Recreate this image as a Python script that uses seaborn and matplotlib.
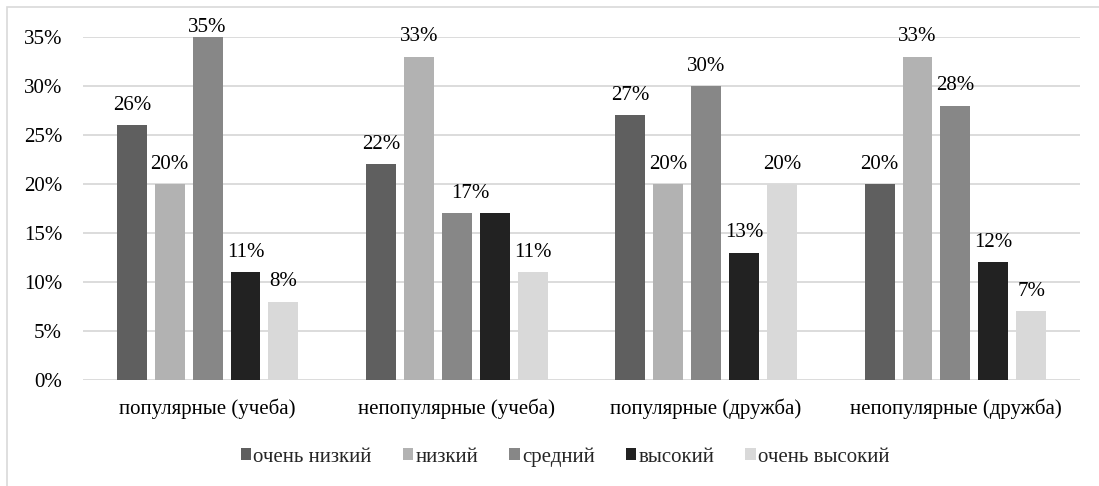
import matplotlib
matplotlib.use("Agg")
import matplotlib.pyplot as plt
import seaborn as sns
import pandas as pd
from matplotlib.patches import Rectangle
from matplotlib.ticker import FuncFormatter

categories = ["популярные (учеба)", "непопулярные (учеба)", "популярные (дружба)", "непопулярные (дружба)"]
series = ["очень низкий", "низкий", "средний", "высокий", "очень высокий"]
very_low = [26, 22, 27, 20]
low = [20, 33, 20, 33]
medium = [35, 17, 30, 28]
high = [11, 17, 13, 12]
very_high = [8, 11, 20, 7]
colors = ["#5f5f5f", "#b2b2b2", "#878787", "#222222", "#d9d9d9"]

rows = []
for s, vals in zip(series, [very_low, low, medium, high, very_high]):
    for c, v in zip(categories, vals):
        rows.append({"cat": c, "series": s, "value": v / 100})
df = pd.DataFrame(rows)

sns.set_style("white")
plt.rcParams["font.family"] = ["Liberation Serif", "DejaVu Serif"]
FS = 15

fig = plt.figure(figsize=(10.99, 4.86), dpi=100)
ax = fig.add_axes([83 / 1099, 1 - 380 / 486, (1080 - 83) / 1099, (380 - 37) / 486])

sns.barplot(data=df, x="cat", y="value", hue="series", order=categories, hue_order=series,
            palette=colors, width=0.76, gap=0.21, ax=ax, legend=True, saturation=1, linewidth=0)

YMAX = 0.35
ax.set_ylim(0, YMAX)
ax.set_yticks([i * 0.05 for i in range(8)])
ax.yaxis.set_major_formatter(FuncFormatter(lambda v, p: f"{round(v * 100)}%"))
ax.grid(axis="y", color="#d9d9d9", linewidth=1.3)
ax.set_axisbelow(True)
for sp in ax.spines.values():
    sp.set_visible(False)
ax.tick_params(axis="both", length=0, labelsize=FS, colors="black")
ax.tick_params(axis="y", pad=15)
ax.tick_params(axis="x", pad=13)
ax.set_xlabel("")
ax.set_ylabel("")

for si, cont in enumerate(ax.containers):
    for ci, b in enumerate(cont):
        h = b.get_height()
        # the reference shows a single label for the two equal 17% bars
        if series[si] == "высокий" and categories[ci] == "непопулярные (учеба)":
            continue
        dx = 0
        if series[si] == "средний" and categories[ci] == "непопулярные (учеба)":
            dx = 10
        pad = 0 if h >= YMAX - 0.005 else 7.5
        ax.annotate(f"{round(h * 100)}%", (b.get_x() + b.get_width() / 2, h),
                    xytext=(dx, pad), textcoords="offset points",
                    ha="center", va="bottom", fontsize=FS, color="black")

leg = ax.legend(loc="center", bbox_to_anchor=(0.4835, -0.2245), ncol=5, frameon=False, fontsize=FS,
                handlelength=0.5, handleheight=0.5, handletextpad=0.1, columnspacing=1.5)

fig.patches.append(Rectangle((7 / 1099, -0.1), 1.2, 1 - 7 / 486 + 0.1, transform=fig.transFigure,
                             fill=False, edgecolor="#d9d9d9", linewidth=1.2))

fig.savefig("out.png", dpi=100)
